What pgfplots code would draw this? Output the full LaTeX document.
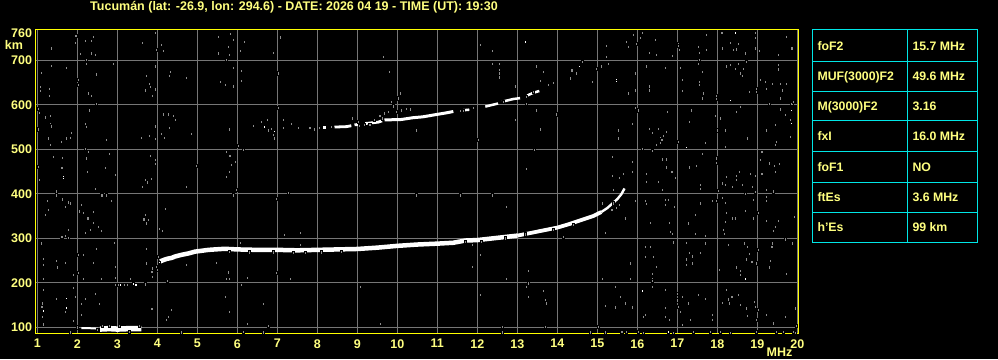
\documentclass[border=0pt]{standalone}
\usepackage{fontspec}
\setmainfont{Liberation Sans}
\usepackage{pgfplots}
\pgfplotsset{compat=1.18}
\definecolor{frameyellow}{RGB}{255,255,0}
\definecolor{txtyellow}{RGB}{255,255,128}
\definecolor{gridgray}{RGB}{118,118,118}
\definecolor{noisegray}{RGB}{140,140,140}
\definecolor{tabcyan}{RGB}{0,230,230}
\begin{document}
\begin{tikzpicture}
\fill[black] (0pt,0pt) rectangle (998pt,359pt);
\begin{axis}[at={(35.5pt,25.7pt)}, anchor=south west, scale only axis,
  width=762.8pt, height=303.6pt,
  xmin=0.955, xmax=20.025, ymin=86.5, ymax=768.8,
  axis line style={frameyellow, line width=1.2pt},
  xtick={1,2,...,20}, ytick={100,200,...,700},
  extra y ticks={760}, extra y tick style={grid=none},
  grid=major, major grid style={gridgray, line width=0.9pt},
  major tick length=0pt,
  /pgf/number format/assume math mode=true,
  ticklabel style={font=\bfseries\fontsize{12.5}{13}\selectfont, text=txtyellow},
  xticklabel style={yshift=-2.5pt},
  clip=true,
]
% ---------- grey noise ----------
\addplot[only marks, mark=square*, mark size=1.15pt, mark options={draw=none, fill=noisegray, yscale=1.4}] coordinates {
(1.96,755)(1.94,740)(2.19,744)(2.34,744)(2.40,753)(2.08,714)(2.34,716)(2.44,713)(2.23,702)(2.23,693)(1.34,727)(3.94,762)(3.63,740)(4.09,735)(3.98,723)(4.14,722)(5.53,753)(5.53,716)(5.73,701)
(1.09,672)(1.08,641)(1.08,632)(1.29,637)(1.29,621)(1.73,684)(1.34,688)(2.03,656)(2.03,645)(2.48,669)(2.28,626)(2.34,621)(2.48,602)(2.89,693)(3.94,687)(3.73,666)(3.79,648)(3.82,641)(3.69,633)(3.94,635)(3.88,621)(4.33,675)(4.30,665)(4.73,661)(5.58,652)(5.69,645)
(1.03,592)(1.04,582)(1.19,572)(1.32,575)(1.32,557)(1.34,552)(1.03,545)(1.28,525)(1.32,510)(1.59,517)(1.73,525)(1.83,526)(1.84,538)(2.19,557)(2.23,551)(2.29,588)(2.73,521)(2.19,502)(3.94,552)(3.59,526)(3.79,530)(3.94,523)(4.14,579)(4.28,579)(4.40,575)(4.44,566)(4.29,549)(4.18,526)(4.09,535)(4.84,535)(5.80,545)
(1.03,461)(1.04,431)(1.40,484)(1.63,481)(1.61,459)(2.23,480)(2.28,495)(2.25,450)(2.69,459)(2.79,490)(2.94,443)(2.44,411)(2.61,397)(2.73,397)(3.82,485)(3.94,476)(3.94,467)(3.69,431)(3.74,426)(3.84,434)(3.63,416)(4.98,463)(4.73,416)(5.73,439)(5.78,450)(5.80,485)(5.73,495)
(1.24,384)(1.48,406)(1.48,397)(1.62,388)(1.78,381)(1.83,379)(1.69,371)(1.19,353)(1.28,364)(2.09,375)(2.04,361)(2.15,358)(2.40,360)(2.26,345)(2.40,335)(2.19,313)(2.32,319)(2.53,326)(2.59,317)(2.84,385)(3.69,353)(3.66,343)(3.78,341)(3.73,334)(4.19,366)(4.04,321)(4.13,317)(1.69,305)(1.78,320)(1.61,304)(1.78,302)(2.93,290)
(1.09,289)(1.14,254)(1.14,240)(1.14,210)(1.48,249)(1.69,245)(1.49,235)(2.03,263)(2.15,264)(2.48,276)(2.40,245)(2.03,223)(1.90,218)(2.15,209)(2.59,210)(2.94,236)(2.94,212)(3.73,276)(3.73,244)(3.86,229)(3.88,214)(4.24,205)(4.73,240)(5.48,245)(5.78,224)(5.73,210)(3.32,210)
(1.15,184)(1.13,154)(1.11,147)(1.13,124)(1.15,107)(1.48,165)(1.69,147)(1.69,135)(1.90,189)(1.94,169)(2.09,153)(2.19,165)(2.09,128)(2.44,176)(2.54,153)(1.90,114)(1.82,89)(3.69,197)(3.86,141)(4.34,139)(4.28,123)(4.23,117)(4.59,89)(5.69,169)
(5.83,759)(6.18,742)(6.08,722)(6.89,717)(7.08,752)(5.89,747)(5.78,731)(5.79,712)(6.10,677)(6.10,654)(5.89,684)(5.89,642)(7.03,671)(9.64,708)(9.79,675)(7.03,594)(6.03,508)(6.14,499)(5.81,485)(5.85,465)(5.95,472)(5.79,450)(5.98,409)(5.89,397)(7.28,403)(6.98,389)(10.48,397)(10.48,543)(7.18,308)(7.58,313)(7.58,285)(6.08,290)(5.79,210)(6.24,212)(6.10,195)(7.33,209)(6.98,223)(6.64,153)(5.79,135)(6.24,108)(6.78,104)(6.64,89)(6.14,90)(9.58,108)(9.08,191)
(6.39,553)(6.60,562)(6.75,567)(6.85,547)(6.77,543)(6.89,532)(6.93,525)(7.14,566)(7.35,557)(7.14,549)(7.52,549)(7.81,549)(7.92,545)(9.85,607)(10.02,615)(10.08,626)(9.89,597)(9.97,585)(10.10,588)(10.23,592)(10.33,590)(9.68,581)(9.77,585)(9.56,575)(9.62,570)(9.43,567)(8.87,570)(9.02,562)(9.18,555)(9.31,555)(8.05,549)(8.35,551)(9.05,553)
(14.36,678)(14.48,671)(14.63,697)(14.33,660)(13.78,645)(13.90,650)(13.58,654)(13.65,675)(13.48,687)(12.94,642)(13.23,603)(13.48,588)(13.58,545)(12.94,566)(12.03,521)(13.43,499)(13.23,457)(12.38,722)(12.08,735)(12.38,693)(12.54,693)(12.54,678)(12.54,671)(12.54,662)(13.98,579)(14.88,652)(15.09,687)(15.23,732)(15.23,708)(15.28,693)(14.98,682)(11.58,397)(12.38,397)(12.73,371)(12.07,263)(11.88,285)(11.88,236)(12.08,173)(12.73,210)(13.28,227)(13.28,199)(13.23,191)(13.28,169)(13.65,182)(13.69,161)(13.72,154)(14.15,304)(15.13,210)(15.19,148)(15.19,313)(15.36,364)(15.40,379)(15.15,382)(15.13,379)(15.40,409)(15.38,440)(15.38,484)(12.63,102)(12.63,89)(13.69,102)(14.83,89)(15.03,102)(15.19,89)(15.43,143)(15.43,191)
(11.57,587)(11.65,587)(11.90,593)(12.65,607)(13.23,618)(13.40,630)
(15.73,742)(15.78,731)(15.90,757)(15.98,737)(16.13,762)(16.08,750)(16.44,746)(16.30,717)(16.48,712)(16.88,710)(17.03,738)(17.03,732)(17.05,723)(17.52,731)(17.55,717)(17.73,757)(17.73,723)(18.11,762)(18.13,727)(18.33,740)(18.40,723)(18.47,725)(18.53,738)(18.69,716)(18.94,762)(18.94,750)(18.94,727)(19.05,722)(19.53,712)(19.86,727)(19.73,753)
(15.94,671)(15.94,633)(15.78,626)(16.23,687)(16.30,642)(16.30,633)(16.69,684)(17.08,684)(17.13,656)(17.13,631)(17.55,702)(17.53,693)(17.63,675)(17.55,652)(17.55,645)(17.65,626)(17.63,615)(17.98,615)(17.97,620)(18.23,687)(18.33,690)(18.53,693)(18.44,682)(18.65,682)(18.58,671)(18.63,665)(18.73,697)(18.80,630)(18.98,630)(18.98,637)(19.08,656)(19.19,652)(19.23,637)(19.30,603)(19.38,648)(19.53,690)(19.53,680)(19.57,648)(19.63,633)(19.73,648)(19.86,603)(19.90,607)(19.58,615)
(15.53,543)(15.53,525)(15.94,594)(16.03,588)(15.88,557)(16.13,502)(16.30,547)(16.38,538)(16.53,547)(16.57,525)(16.65,530)(16.61,521)(16.75,585)(16.73,540)(16.48,510)(16.58,514)(17.03,517)(17.34,588)(17.29,562)(17.69,514)(17.94,575)(18.07,570)(18.00,543)(18.19,543)(18.19,506)(18.48,585)(18.58,596)(18.75,525)(19.19,547)(19.23,543)(19.44,555)(19.48,517)(19.44,510)(19.82,529)(19.82,566)(19.69,577)(19.58,590)
(15.38,484)(15.55,437)(15.65,446)(15.88,472)(15.88,450)(16.23,445)(16.23,427)(16.38,497)(16.53,427)(16.63,478)(16.73,478)(16.73,460)(16.86,450)(16.94,437)(16.63,410)(17.29,460)(17.48,463)(17.63,490)(17.58,420)(17.58,412)(17.98,480)(17.98,470)(18.03,407)(18.11,427)(18.13,424)(18.19,420)(18.23,439)(18.38,416)(18.48,441)(18.48,431)(18.55,450)(18.63,420)(18.69,401)(18.83,445)(18.94,440)(18.88,416)(18.94,405)(19.11,495)(19.11,446)(19.23,409)(19.30,469)(19.43,463)(19.44,450)(19.55,467)(19.40,406)(19.08,476)
(15.69,345)(15.48,368)(15.55,375)(15.94,384)(16.19,384)(16.23,377)(16.33,335)(16.69,386)(16.69,375)(16.78,386)(16.83,315)(16.88,310)(16.79,335)(16.93,371)(17.28,334)(17.44,353)(17.44,311)(17.58,379)(17.69,305)(17.88,384)(17.98,384)(18.13,392)(18.19,380)(18.23,358)(18.19,338)(18.15,319)(18.17,310)(18.38,345)(18.44,345)(18.69,362)(18.90,386)(18.90,345)(19.03,358)(19.23,394)(19.23,384)(19.23,339)(19.44,326)(19.53,340)(19.40,317)(19.69,298)(19.93,349)
(15.83,244)(15.83,210)(16.19,281)(16.33,281)(16.19,259)(16.40,259)(16.48,236)(16.38,221)(16.38,210)(16.38,205)(16.90,291)(17.22,290)(17.29,268)(17.38,260)(17.38,244)(17.22,253)(17.22,240)(17.58,268)(17.69,289)(18.05,230)(18.27,285)(18.47,235)(18.57,227)(18.58,218)(18.67,289)(18.75,281)(18.80,265)(18.73,253)(18.86,248)(18.97,244)(19.03,274)(19.32,250)(19.36,281)(19.30,235)(19.38,289)(19.73,220)(19.88,289)
(15.44,191)(15.44,145)(15.58,169)(15.69,154)(15.88,145)(16.15,124)(16.19,128)(16.38,191)(16.69,184)(16.69,144)(16.69,124)(16.80,117)(17.00,176)(17.00,161)(17.03,147)(17.08,135)(17.13,105)(17.13,169)(17.28,154)(17.33,117)(17.53,173)(17.69,165)(17.88,128)(17.88,117)(18.23,184)(18.27,163)(18.30,154)(18.13,156)(18.36,169)(18.53,173)(18.58,150)(18.73,143)(18.75,126)(18.92,158)(18.94,147)(19.03,139)(18.98,117)(19.22,128)(19.40,109)(19.69,124)(19.94,143)(19.98,103)
(15.61,90)(15.72,90)(16.03,90)(16.15,88)(16.90,88)(17.40,90)(17.82,90)(18.07,90)(18.32,88)(18.98,90)(19.48,90)(19.65,90)(19.90,90)(19.94,88)
(3.98,236)(4.00,229)(4.02,258)(5.80,270)(6.30,269)(6.90,269)(7.40,268)(7.70,268)(8.10,269)(8.60,270)(11.70,292)(12.10,293)(12.70,300)(13.20,309)(13.90,320)(14.40,331)
(2.00,100)(2.50,94)(2.62,103)(2.80,104)(3.05,103)(3.30,90)(3.55,104)(2.95,196)(3.02,195)(3.17,195)(3.24,196)(3.86,225)(3.87,233)
};
% ---------- white isolated points ----------
\addplot[only marks, mark=square*, mark size=1.15pt, mark options={draw=none, fill=white}] coordinates {
(1.64,439)(1.64,435)(1.73,165)(1.14,137)(1.73,144)(6.68,551)(6.93,541)(13.19,742)(14.54,687)(15.48,657)(15.48,653)(18.44,762)(18.33,611)(17.23,505)(19.84,588)(19.84,559)(18.69,209)(16.13,182)(16.78,90)(3.07,196)(3.40,198)(3.46,196)(4.05,247)
};
% ---------- Es trace ----------
\addplot[white, line width=2pt] coordinates {(2.10,98)(2.30,98)(2.52,97)};
\addplot[white, line width=5.5pt] coordinates {(2.57,96)(2.80,97)(3.00,96)(3.30,97)(3.60,97)};
% ---------- F2 trace ----------
\addplot[white, line width=4.5pt] coordinates {
(4.07,248)(4.15,251)(4.25,254)(4.36,256)(4.44,259)(4.61,263)(4.78,266)(4.94,270)(5.11,272)(5.28,274)(5.44,275)(5.61,276)(5.78,276)(6.00,275)(6.50,274)(7.00,274)(7.50,273)(8.00,274)(8.50,275)(9.00,276)(9.50,279)(10.00,283)(10.50,286)(11.00,288)(11.40,290)(11.70,295)(12.00,296)(12.50,301)(13.00,306)};
\addplot[white, line width=3.8pt] coordinates {
(13.00,306)(13.50,315)(14.00,324)(14.30,332)(14.60,341)(14.90,350)(15.10,359)};
\addplot[white, line width=2.4pt] coordinates {
(15.10,359)(15.25,368)(15.40,380)(15.50,388)(15.60,399)(15.68,412)};
% ---------- second-hop F2 trace ----------
\addplot[white, line width=2.8pt] coordinates {(8.15,549)(8.22,549)};
\addplot[white, line width=2.8pt] coordinates {(8.43,550)(8.73,551)(8.85,553)};
\addplot[white, line width=2.8pt] coordinates {(8.93,555)(9.05,556)};
\addplot[white, line width=2.8pt] coordinates {(9.20,558)(9.52,561)(9.62,564)};
\addplot[white, line width=3pt] coordinates {(9.68,566)(10.10,567)(10.39,571)(10.64,573)(10.90,577)(11.23,582)(11.40,585)};
\addplot[white, line width=2.5pt] coordinates {(11.55,587)(11.80,589)};
\addplot[white, line width=2.5pt] coordinates {(12.20,596)(12.52,603)};
\addplot[white, line width=2.5pt] coordinates {(12.62,607)(12.90,613)(13.07,615)};
\addplot[white, line width=2.5pt] coordinates {(13.25,621)(13.40,627)(13.55,631)};
\end{axis}
% ---------- titles ----------
\node[anchor=base, text=txtyellow, font=\bfseries\fontsize{12.5}{14}\selectfont, inner sep=0pt] at (294pt,348.5pt) {Tucumán (lat: -26.9, lon: 294.6) - DATE: 2026 04 19 - TIME (UT): 19:30};
\node[anchor=base, text=txtyellow, font=\bfseries\fontsize{12.5}{14}\selectfont, inner sep=0pt] at (14pt,309pt) {km};
\node[anchor=base, text=txtyellow, font=\bfseries\fontsize{12.5}{14}\selectfont, inner sep=0pt] at (779.5pt,3pt) {MHz};
% ---------- parameter table ----------
\draw[tabcyan, line width=1pt] (812.3pt,116.7pt) rectangle (977.7pt,329pt);
\draw[tabcyan, line width=1pt] (907.3pt,116.7pt) -- (907.3pt,329pt);
\foreach \yy in {297.3,267.7,238,207.3,176.7,146.7}{
  \draw[tabcyan, line width=1pt] (812.3pt,\yy pt) -- (977.7pt,\yy pt);
}
\begin{scope}[every node/.style={anchor=base west, text=txtyellow, font=\bfseries\fontsize{12.3}{14}\selectfont, inner sep=0pt}]
\node at (817.3pt,308.6pt) {foF2};        \node at (912.3pt,308.6pt) {15.7 MHz};
\node at (817.3pt,278.0pt) {MUF(3000)F2}; \node at (912.3pt,278.0pt) {49.6 MHz};
\node at (817.3pt,248.4pt) {M(3000)F2};   \node at (912.3pt,248.4pt) {3.16};
\node at (817.3pt,218.2pt) {fxI};         \node at (912.3pt,218.2pt) {16.0 MHz};
\node at (817.3pt,187.5pt) {foF1};        \node at (912.3pt,187.5pt) {NO};
\node at (817.3pt,157.2pt) {ftEs};        \node at (912.3pt,157.2pt) {3.6 MHz};
\node at (817.3pt,127.2pt) {h'Es};        \node at (912.3pt,127.2pt) {99 km};
\end{scope}
\end{tikzpicture}
\end{document}
